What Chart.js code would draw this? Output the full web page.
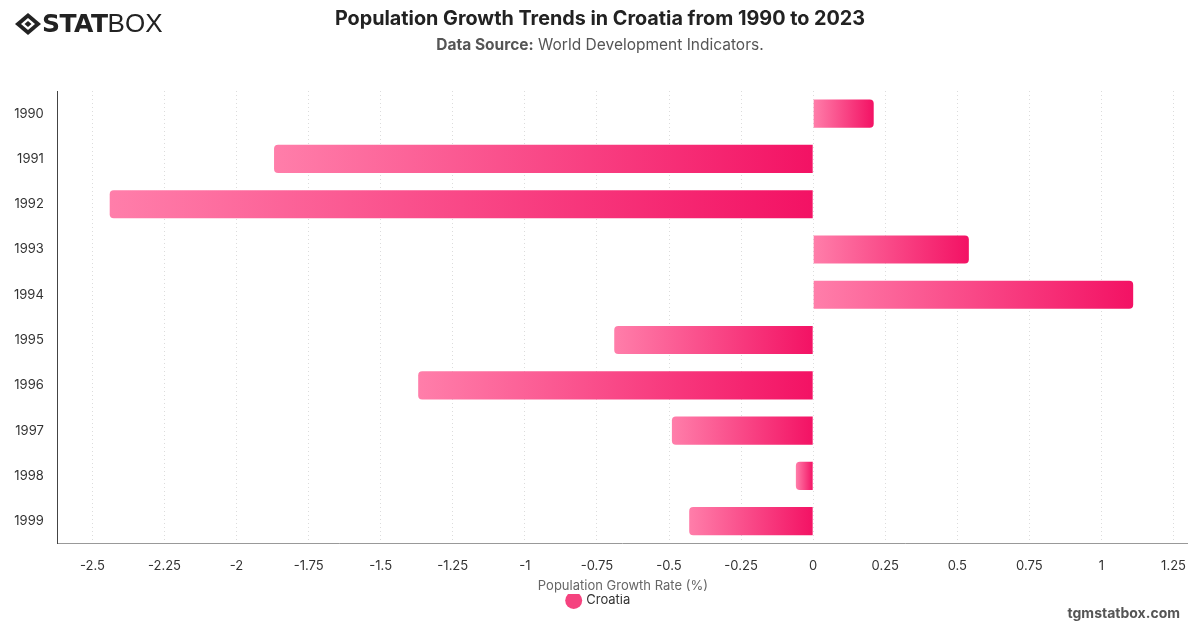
<!DOCTYPE html>
<html>
<head>
<meta charset="utf-8">
<script src="https://cdn.jsdelivr.net/npm/chart.js@4.4.1/dist/chart.umd.min.js"></script>
<style>
  body { margin: 0; background: #fff; font-family: Inter, "Liberation Sans", Arial, sans-serif; }
  #wrap { position: relative; width: 1200px; height: 628px; overflow: hidden; }
  #grafico { position: absolute; left: 0; top: 0; }
  .logo { position: absolute; left: 14px; top: 8px; display: flex; align-items: center; color: #222; }
  .logo span.stat { font-family: "DejaVu Sans", sans-serif; font-weight: 900; font-size: 25px; letter-spacing: -0.5px; }
  .logo span.box { font-family: "Liberation Sans", Arial, sans-serif; font-weight: 400; font-size: 26px; }
  .titulo { position: absolute; top: 6px; left: 0; width: 1200px; text-align: center; font-size: 19.8px; font-weight: 700; color: #222; }
  .fuente { position: absolute; top: 35px; left: 0; width: 1200px; text-align: center; font-size: 15.5px; color: #555; }
  .fuente b { font-weight: 700; }
  .marca { position: absolute; right: 20px; top: 604px; font-size: 14px; font-weight: 700; color: #555; }
</style>
</head>
<body>
<div id="wrap">
  <canvas id="grafico" width="1200" height="628"></canvas>
  <div class="logo">
    <svg width="28" height="24" viewBox="0 0 28 24">
      <path d="M14 1 L27 12 L14 23 L1 12 Z" fill="#222"/>
      <path d="M14 6 L21 12 L14 18 L7 12 Z" fill="#fff"/>
      <path d="M14 9 L17.5 12 L14 15 L10.5 12 Z" fill="#222"/>
    </svg>
    <span class="stat">STAT</span><span class="box">BOX</span>
  </div>
  <div class="titulo">Population Growth Trends in Croatia from 1990 to 2023</div>
  <div class="fuente"><b>Data Source:</b> World Development Indicators.</div>
  <div class="marca">tgmstatbox.com</div>
</div>
<script>
const anios = ["1990", "1991", "1992", "1993", "1994", "1995", "1996", "1997", "1998", "1999"];
const crecimiento = [0.21, -1.87, -2.44, 0.54, 1.11, -0.69, -1.37, -0.49, -0.06, -0.43];
const ejeMin = -2.62;
const ejeMax = 1.3;
const paso = 0.25;

const colorClaro = "#ff7eaa";
const colorOscuro = "#f31264";

// gradiente por barra, de izquierda a derecha
const degradado = function(context) {
    const chart = context.chart;
    if (!chart.chartArea || context.raw === undefined) return colorOscuro;
    const x = chart.scales.x;
    const v = context.raw;
    const x0 = x.getPixelForValue(Math.min(0, v));
    const x1 = x.getPixelForValue(Math.max(0, v));
    const g = chart.ctx.createLinearGradient(x0, 0, x1 + 0.01, 0);
    g.addColorStop(0, colorClaro);
    g.addColorStop(1, colorOscuro);
    return g;
};

const ctx = document.getElementById("grafico");

new Chart(ctx, {
    type: "bar",
    data: {
        labels: anios,
        datasets: [{
            label: "Croatia",
            data: crecimiento,
            backgroundColor: degradado,
            borderRadius: 4,
            barPercentage: 0.9,
            categoryPercentage: 0.69
        }]
    },
    options: {
        indexAxis: "y",
        responsive: false,
        animation: false,
        layout: { padding: { top: 91, left: 0, right: 2, bottom: 11 } },
        scales: {
            x: {
                min: ejeMin,
                max: ejeMax,
                grid: { color: "#dcdcdc", drawTicks: false },
                border: { display: true, color: "#999", dash: [1, 3] },
                ticks: {
                    stepSize: paso,
                    includeBounds: false,
                    padding: 14,
                    color: "#333",
                    font: { family: "Inter", size: 13 },
                    callback: (value) => String(Math.round(value * 100) / 100)
                },
                title: {
                    display: true,
                    text: "Population Growth Rate (%)",
                    color: "#666",
                    font: { family: "Inter", size: 13 },
                    padding: { top: -9, bottom: 0 }
                }
            },
            y: {
                grid: { display: false, drawTicks: false },
                border: { display: true, color: "#444", width: 1 },
                ticks: {
                    padding: 14,
                    color: "#333",
                    font: { family: "Inter", size: 13 }
                }
            }
        },
        plugins: {
            legend: {
                position: "bottom",
                labels: {
                    usePointStyle: true,
                    pointStyle: "circle",
                    boxWidth: 12,
                    boxHeight: 12,
                    padding: 0,
                    color: "#333",
                    font: { family: "Inter", size: 13 },
                    generateLabels: (chart) => [{
                        text: "Croatia",
                        fillStyle: "#f5437f",
                        strokeStyle: "#f5437f",
                        lineWidth: 0,
                        pointStyle: "circle",
                        datasetIndex: 0,
                        fontColor: "#333"
                    }]
                }
            },
            tooltip: { enabled: false }
        }
    }
});
</script>
</body>
</html>
